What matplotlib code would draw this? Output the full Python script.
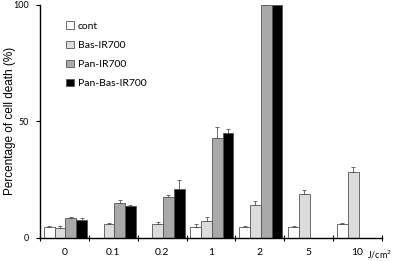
import numpy as np
import matplotlib
matplotlib.use("Agg")
import matplotlib.pyplot as plt

# doses (J/cm2) and cell death (%)
doses = ["0", "0.1", "0.2", "1", "2", "5", "10"]
nan = np.nan

cont = [4.8, nan, nan, 4.7, 4.7, 4.4, 5.7]
cont_err = [0.4, 0, 0, 1.0, 0.5, 0.8, 0.5]
bas = [4.3, 5.9, 5.8, 7.3, 14.0, 18.8, 28.2]
bas_err = [0.6, 0.5, 1.0, 1.4, 1.8, 1.6, 2.0]
pan = [8.5, 14.7, 17.5, 42.8, 100.0, nan, nan]
pan_err = [0.2, 1.6, 0.7, 4.8, 0.0, 0, 0]
panbas = [7.5, 13.5, 21.0, 45.1, 99.8, nan, nan]
panbas_err = [1.1, 0.5, 4.0, 1.4, 0.3, 0, 0]

series = [
    ("cont", cont, cont_err, "#ffffff"),
    ("Bas-IR700", bas, bas_err, "#dcdcdc"),
    ("Pan-IR700", pan, pan_err, "#a9a9a9"),
    ("Pan-Bas-IR700", panbas, panbas_err, "#000000"),
]

fig = plt.figure(figsize=(3.93, 2.61), dpi=100)
ax = fig.add_axes([0.1018, 0.0893, 0.8702, 0.8916])

x = np.arange(len(doses))
w = 0.22
offsets = [-0.31, -0.09, 0.13, 0.35]

for (label, vals, errs, col), off in zip(series, offsets):
    vals = np.array(vals, dtype=float)
    errs = np.array(errs, dtype=float)
    ax.bar(x + off, vals, width=w, color=col, edgecolor="#555555",
           linewidth=0.6, label=label, zorder=2)
    ok = ~np.isnan(vals)
    ax.errorbar((x + off)[ok], vals[ok],
                yerr=[np.zeros(ok.sum()), errs[ok]],
                fmt="none", ecolor="#555555", elinewidth=0.6,
                capsize=1.2, capthick=0.6, zorder=3)

ax.set_xlim(-0.5, len(doses) - 0.5)
ax.set_ylim(0, 100)
ax.spines["top"].set_visible(False)
ax.spines["right"].set_visible(False)
ax.spines["left"].set_linewidth(1.0)
ax.spines["bottom"].set_linewidth(1.0)

ax.set_yticks([0, 50, 100])
ax.set_yticklabels(["0", "50", "100"], fontfamily="Lato", fontsize=6.5)
ax.tick_params(axis="y", direction="out", length=3, width=0.8, pad=5)

ax.set_xticks(np.arange(len(doses) + 1) - 0.5)
ax.set_xticklabels([])
ax.tick_params(axis="x", direction="inout", length=4, width=0.8)
for i, d in enumerate(doses):
    ax.text(i, -4.5, d, ha="center", va="top", fontfamily="Lato", fontsize=7.5)
ax.text(6.2, -4.5, "J/cm$^2$", ha="left", va="top", fontfamily="Lato",
        fontsize=6.5, clip_on=False)

fig.text(10 / 393, 1 - 121 / 261, "Percentage of cell death (%)",
         rotation=90, ha="center", va="center",
         fontfamily="Liberation Sans", fontsize=8.5)

ax.legend(loc="upper left", bbox_to_anchor=(0.05, 0.97), frameon=False,
          prop={"family": "Lato", "size": 7.5}, handlelength=0.7,
          handleheight=0.7, handletextpad=0.4, labelspacing=0.95)

fig.savefig("out.png", dpi=100)
